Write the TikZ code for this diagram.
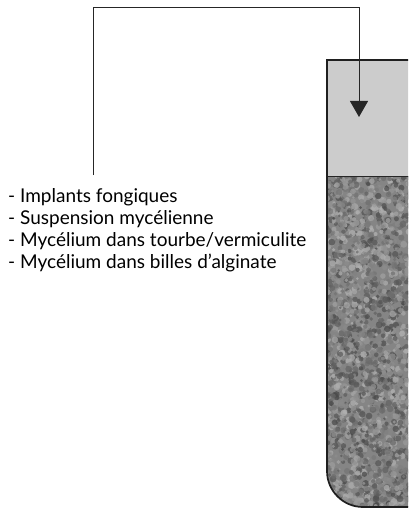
\documentclass[tikz,border=0pt]{standalone}
\usepackage{fontspec}
\setmainfont{Lato}
\usetikzlibrary{arrows.meta}
\begin{document}
\begin{tikzpicture}[x=1pt,y=-1pt,
  itemtext/.style={anchor=base west,inner sep=0pt,font=\fontsize{19}{22}\selectfont},
  feedline/.style={line width=1pt,draw=black!85},
  tubeline/.style={line width=1.7pt,draw=black!88},
  arrowhead/.style={-{Triangle[width=18pt,length=16pt]}}]
  \clip (0,0) rectangle (408,508);
  \fill[white] (0,0) rectangle (408,508);

  % upper part of the tube: liquid
  \fill[black!20] (327,60) rectangle (440,176);

  % lower part of the tube: granular substrate
  \begin{scope}
    \clip (327,176) -- (327,471) arc (180:90:36) -- (440,507) -- (440,176) -- cycle;
    \fill[black!48] (320,170) rectangle (440,510);
    \pgfmathsetseed{11}
    \foreach \i in {1,...,2600}{
      \pgfmathsetmacro\gx{322+rnd*92}
      \pgfmathsetmacro\gy{170+rnd*345}
      \pgfmathtruncatemacro\gg{30+rnd*42}
      \pgfmathsetmacro\gr{1.3+rnd*2.2}
      \fill[black!\gg!white,opacity=0.75] (\gx,\gy) circle (\gr);
    }
  \end{scope}

  % tube outline and boundary between the two layers
  \draw[line width=1pt,draw=black!85] (327,176) -- (440,176);
  \draw[tubeline] (440,60) -- (327,60) -- (327,471) arc (180:90:36) -- (440,507);

  % list of inoculum forms
  \node[itemtext] (l1) at (8,202) {- Implants fongiques};
  \node[itemtext] (l2) at (8,224) {- Suspension mycélienne};
  \node[itemtext] (l3) at (8,246) {- Mycélium dans tourbe/vermiculite};
  \node[itemtext] (l4) at (8,268) {- Mycélium dans billes d’alginate};

  % inoculation path into the tube
  \coordinate (src) at (93,175);
  \coordinate (tip) at (359,117);
  \draw[feedline,arrowhead] (src) |- (359,8) -- (tip);
\end{tikzpicture}
\end{document}
